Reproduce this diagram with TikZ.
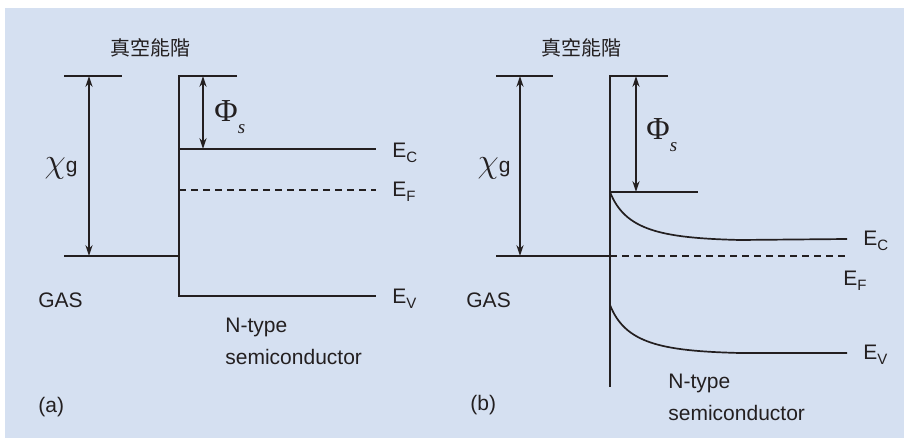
\documentclass[tikz,border=0pt]{standalone}
\usepackage{fontspec}
\setmainfont{Liberation Sans}
\newfontfamily\cjk{Noto Sans CJK TC}
\newfontfamily\serifgr{Liberation Serif}
\usetikzlibrary{arrows.meta, calc}
\definecolor{bgBlue}{HTML}{D5E0F1}
\definecolor{inkG}{HTML}{231F20}

\newcommand{\sublab}[2]{#1\raisebox{-0.45ex}{\fontsize{7.5}{8}\selectfont #2}}
\newcommand{\chilab}{{\fontsize{17}{17}\selectfont$\chi$}{\fontsize{10.5}{12}\selectfont g}}
\newcommand{\philab}{{\serifgr\fontsize{16}{16}\selectfont Φ}\raisebox{-1.1ex}{\serifgr\itshape\fontsize{9.5}{10}\selectfont s}}

\begin{document}
\begin{tikzpicture}[
  x=0.5pt, y=-0.5pt,
  lvl/.style={draw=inkG, line width=0.85pt},
  fermi/.style={draw=inkG, line width=0.75pt, dash pattern=on 3.5pt off 2.5pt},
  gap/.style={{Stealth[length=5.5pt, width=3.6pt]}-{Stealth[length=5.5pt, width=3.6pt]}, draw=inkG, line width=0.85pt},
  lab/.style={text=inkG, font=\fontsize{10.5}{12}\selectfont, inner sep=0pt},
  elab/.style={lab, anchor=west},
  vac/.style={text=inkG, font=\cjk\fontsize{10}{12}\selectfont, inner sep=0pt}
]
\useasboundingbox (0,0) rectangle (904,438);
\fill[bgBlue] (5,8) rectangle (904,438);

%% ═══ (a) FLAT BANDS ═══
\node[vac] (vacA) at (150,48) {真空能階};

\coordinate (a-gtl) at (64,76);   \coordinate (a-gtr) at (122,76);
\coordinate (a-stl) at (179,76);  \coordinate (a-str) at (237,76);
\coordinate (a-gbl) at (64,256);  \coordinate (a-gbr) at (179,256);
\coordinate (a-ec0) at (179,149); \coordinate (a-ec1) at (376,149);
\coordinate (a-ef0) at (179,190); \coordinate (a-ef1) at (376,190);
\coordinate (a-ev0) at (179,296); \coordinate (a-ev1) at (376,296);
\coordinate (a-chiT) at (89,76);  \coordinate (a-chiB) at (89,256);
\coordinate (a-phiT) at (203,76); \coordinate (a-phiB) at (203,149);

\draw[lvl] (a-gtl) -- (a-gtr);
\draw[lvl] (a-str) -- (a-stl) -- (a-ev0) -- (a-ev1);
\draw[lvl] (a-gbl) -- (a-gbr);
\draw[lvl] (a-ec0) -- (a-ec1);
\draw[fermi] (a-ef0) -- (a-ef1);
\draw[gap] (a-chiT) -- (a-chiB);
\draw[gap] (a-phiT) -- (a-phiB);

\node[lab] (chiA) at (61,168) {\chilab};
\node[lab, anchor=west] (phiA) at (214,117) {\philab};
\node[elab] (ecA) at (392,153) {\sublab{E}{C}};
\node[elab] (efA) at (392,192) {\sublab{E}{F}};
\node[elab] (evA) at (392,299) {\sublab{E}{V}};
\node[lab, anchor=west] (gasA) at (38,300) {GAS};
\node[lab, anchor=north west, align=left] (semA) at (225,318)
  {N-type\\[4pt]semiconductor};
\node[lab, anchor=west] (tagA) at (38,407) {(a)};

%% ═══ (b) BENT BANDS ═══
\node[vac] (vacB) at (581,48) {真空能階};

\coordinate (b-gtl) at (496,76);  \coordinate (b-gtr) at (553,76);
\coordinate (b-stl) at (610,76);  \coordinate (b-str) at (668,76);
\coordinate (b-sb) at (610,387);
\coordinate (b-gbl) at (496,256); \coordinate (b-gbr) at (610,256);
\coordinate (b-ef1) at (848,256);
\coordinate (b-ss0) at (610,192); \coordinate (b-ss1) at (698,192);
\coordinate (b-ec1) at (847,239);
\coordinate (b-ev0) at (610,305); \coordinate (b-ev1) at (847,353);
\coordinate (b-chiT) at (520,76); \coordinate (b-chiB) at (520,256);
\coordinate (b-phiT) at (636,76); \coordinate (b-phiB) at (636,192);

\draw[lvl] (b-gtl) -- (b-gtr);
\draw[lvl] (b-str) -- (b-stl) -- (b-sb);
\draw[lvl] (b-gbl) -- (b-gbr);
\draw[fermi] (b-gbr) -- (b-ef1);
\draw[lvl] (b-ss0) -- (b-ss1);
\draw[lvl] (b-ss0) .. controls ($(b-ss0)+(15,38)$) and ($(b-ss0)+(50,46)$) .. ($(b-ss0)+(130,48)$) -- (b-ec1);
\draw[lvl] (b-ev0) .. controls ($(b-ev0)+(15,38)$) and ($(b-ev0)+(50,46)$) .. ($(b-ev0)+(130,48)$) -- (b-ev1);
\draw[gap] (b-chiT) -- (b-chiB);
\draw[gap] (b-phiT) -- (b-phiB);

\node[lab] (chiB) at (494,168) {\chilab};
\node[lab, anchor=west] (phiB) at (646,135) {\philab};
\node[elab] (ecB) at (863,241) {\sublab{E}{C}};
\node[elab] (efB) at (843,281) {\sublab{E}{F}};
\node[elab] (evB) at (863,355) {\sublab{E}{V}};
\node[lab, anchor=west] (gasB) at (466,300) {GAS};
\node[lab, anchor=north west, align=left] (semB) at (668,374)
  {N-type\\[4pt]semiconductor};
\node[lab, anchor=west] (tagB) at (470,405) {(b)};

\end{tikzpicture}
\end{document}
